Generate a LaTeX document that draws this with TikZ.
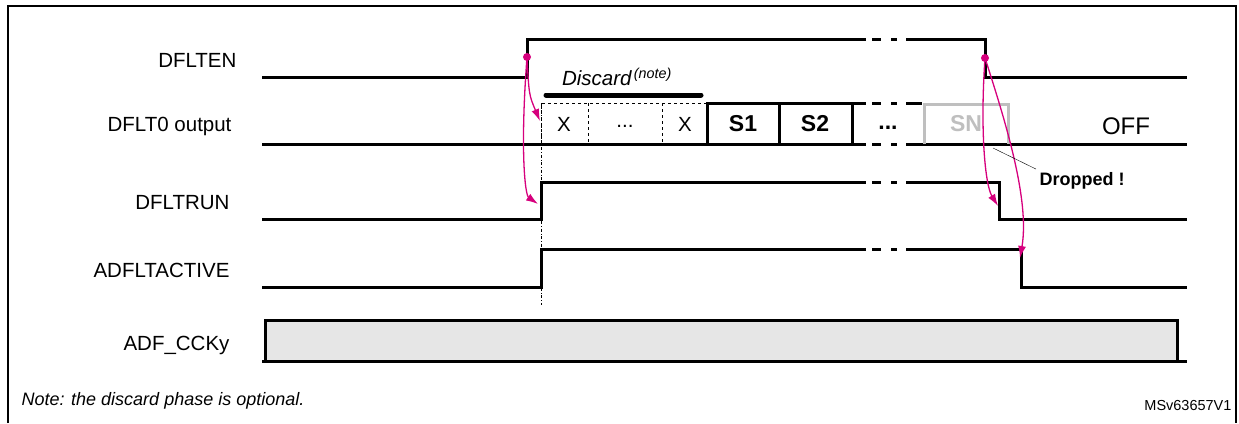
\documentclass[tikz,border=0pt]{standalone}
\usepackage{fontspec}
\setmainfont{Liberation Sans}
\usetikzlibrary{arrows.meta}
\definecolor{mag}{RGB}{214,0,125}
\definecolor{clkfill}{RGB}{230,230,230}
\newcommand{\gapdash}[1]{\draw[sig] (872,#1) -- (881,#1) (891,#1) -- (897,#1);}
\begin{document}
\begin{tikzpicture}[x=1pt,y=-1pt,
	sig/.style={line width=3pt,line cap=butt},
	lbl/.style={anchor=east,font=\fontsize{20.5}{22}\selectfont},
	cell/.style={font=\fontsize{20.5}{22}\selectfont},
	scell/.style={font=\bfseries\fontsize{23}{25}\selectfont},
	trig/.style={mag,line width=1.3pt,-{Latex[length=12pt,width=8pt]}},
	]
	\useasboundingbox (0,0) rectangle (1239,423);
	% frame
	\draw[line width=2pt] (8,423) -- (8,6) -- (1236,6) -- (1236,423);
	% labels
	\node[lbl] (lEN) at (240,60) {DFLTEN};
	\node[lbl] (lOUT) at (235,126) {DFLT0 output};
	\node[lbl] (lRUN) at (233,203) {DFLTRUN};
	\node[lbl] (lACT) at (233,270) {ADFLTACTIVE};
	\node[lbl] (lCK) at (233,345) {ADF\_CCKy};
	% DFLTEN
	\draw[sig] (262,77) -- (527,77) -- (527,39) -- (866,39);
	\gapdash{39}
	\draw[sig] (906,39) -- (985,39) -- (985,77) -- (1187,77);
	% DFLT0 output
	\draw[sig] (262,144) -- (866,144);
	\gapdash{144}
	\draw[sig] (906,144) -- (1187,144);
	\draw[thick,dashed] (541,144) -- (541,103) -- (707,103);
	\draw[thick,dashed] (588,103) -- (588,144) (662,103) -- (662,144);
	\node[cell] (x1) at (564,124) {X};
	\node[cell] (xd) at (625,126) {...};
	\node[cell] (x2) at (685,124) {X};
	\draw[sig] (707,144) -- (707,103) -- (866,103);
	\gapdash{103}
	\draw[sig] (906,103) -- (922,103);
	\draw[sig] (779,103) -- (779,144) (852,103) -- (852,144);
	\node[scell] (s1) at (743,124) {S1};
	\node[scell] (s2) at (815,124) {S2};
	\node[scell] (sd) at (888,128) {...};
	\draw[line width=3pt,gray!50] (924,144) -- (924,104) -- (1008,104) -- (1008,144);
	\node[scell,gray!50] (sn) at (966,124) {SN};
	\node[cell,font=\fontsize{24}{26}\selectfont] (off) at (1126,126) {OFF};
	% discard bar
	\draw[line width=5pt,line cap=round] (546,95) -- (701,95);
	\node[cell,font=\itshape\fontsize{20.5}{22}\selectfont] (disc) at (617,77) {Discard\textsuperscript{\,(note)}};
	% DFLTRUN
	\draw[sig] (262,219) -- (541,219) -- (541,182) -- (866,182);
	\gapdash{182}
	\draw[sig] (906,182) -- (999,182) -- (999,219) -- (1187,219);
	% ADFLTACTIVE
	\draw[sig] (262,287) -- (541,287) -- (541,249) -- (866,249);
	\gapdash{249}
	\draw[sig] (906,249) -- (1021,249) -- (1021,287) -- (1187,287);
	% ADF_CCKy
	\draw[sig,fill=clkfill] (265,361) -- (265,320) -- (1177,320) -- (1177,361);
	\draw[sig] (262,361) -- (1187,361);
	% sampling instant
	\draw[thin,dash dot] (541,103) -- (541,305);
	% triggers
	\coordinate (t1) at (527,57);
	\coordinate (t2) at (985,58);
	\fill[mag] (t1) circle (4pt) (t2) circle (4pt);
	\draw[trig] (t1) .. controls (529,95) .. (540,121);
	\draw[trig] (t1) .. controls (520,150) and (525,195) .. (538,204);
	\draw[trig] (t2) .. controls (980,130) and (985,185) .. (998,206);
	\draw[trig] (t2) .. controls (1005,120) and (1030,200) .. (1020,258);
	% dropped
	\node[font=\bfseries\fontsize{18}{20}\selectfont,anchor=west] (drop) at (1036,181) {Dropped !};
	\draw[thin] (993,148) -- (drop.north west);
	% notes
	\node[anchor=west,font=\itshape\fontsize{18}{20}\selectfont] (note) at (18,401) {Note: the discard phase is optional.};
	\node[anchor=east,font=\fontsize{14.5}{16}\selectfont] (ref) at (1235,406) {MSv63657V1};
\end{tikzpicture}
\end{document}
